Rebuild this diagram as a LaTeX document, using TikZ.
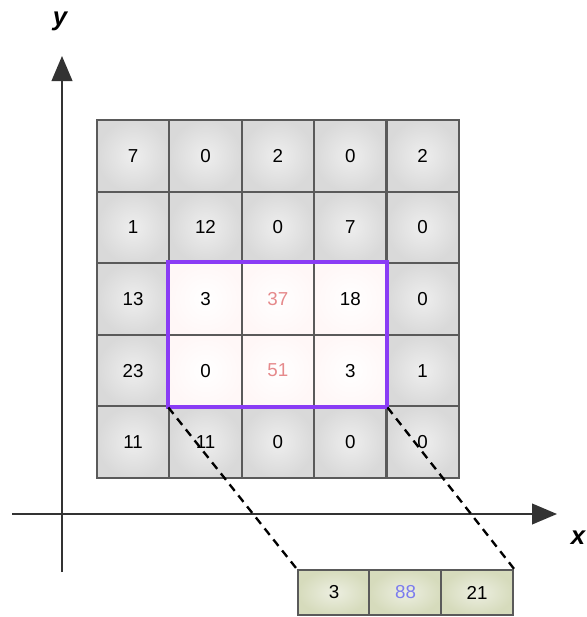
\documentclass[tikz,border=0pt]{standalone}
\usepackage{fontspec}
\setmainfont{Liberation Sans}
\usetikzlibrary{arrows.meta,positioning}
\definecolor{gridline}{HTML}{5A5A5A}
\definecolor{cellgray}{HTML}{D9D9D9}
\definecolor{cellcore}{HTML}{EEEEEE}
\definecolor{winpurple}{HTML}{8A3CF5}
\definecolor{softred}{HTML}{E68A8C}
\definecolor{softblue}{HTML}{7C7CEE}
\definecolor{outgreen}{HTML}{D6DBBC}
\definecolor{axisgray}{HTML}{333333}
\tikzset{
  cell/.style={draw=gridline,line width=1.7pt,inner color=cellcore,outer color=cellgray,
    minimum width=2.17cm,minimum height=2.15cm,font=\fontsize{16}{19}\selectfont},
  wcell/.style={cell,inner color=white,outer color=red!3},
  wredcell/.style={wcell,text=softred},
  outcell/.style={cell,inner color=outgreen!45,outer color=outgreen,minimum height=1.35cm},
  window/.style={draw=winpurple,line width=3.4pt},
  link/.style={draw=black,line width=2pt,dash pattern=on 7pt off 5pt},
  axis/.style={draw=axisgray,line width=1.7pt,-{Triangle[length=0.75cm,width=0.62cm]}},
  axlabel/.style={font=\fontsize{22}{24}\selectfont\bfseries\itshape}
}
\begin{document}
\begin{tikzpicture}[x=0.03cm,y=-0.03cm]
  \useasboundingbox (0,0) rectangle (586,617);

  % Axes
  \coordinate (yfoot) at (62,572);
  \coordinate (ytip) at (62,56);
  \coordinate (xfoot) at (12,514);
  \coordinate (xtip) at (557,514);
  \draw[axis] (yfoot) -- (ytip);
  \draw[axis] (xfoot) -- (xtip);
  \node[axlabel] (ylab) at (60,21) {y};
  \node[axlabel] (xlab) at (578,538) {x};

  % Input grid
  \foreach \vals [count=\r] in {{7,0,2,0,2},{1,12,0,7,0},{13,3,37,18,0},{23,0,51,3,1},{11,11,0,0,0}}
    \foreach \v [count=\c] in \vals {
      \def\sty{cell}
      \ifnum\r>2 \ifnum\r<5 \ifnum\c>1 \ifnum\c<5 \def\sty{wcell}\fi\fi\fi\fi
      \ifnum\r>2 \ifnum\r<5 \ifnum\c=3 \def\sty{wredcell}\fi\fi\fi
      \node[\sty] (c-\r-\c) at ({60.7+72.4*\c},{84.2+71.6*\r}) {\v};
    }

  % Window
  \draw[window] (c-3-2.north west) rectangle (c-4-4.south east);

  % Output row
  \node[outcell] (o-1) at (334,592.5) {3};
  \node[outcell,text=softblue] (o-2) at (405.5,592.5) {88};
  \node[outcell] (o-3) at (477,592.5) {21};

  % Projection lines
  \draw[link] (c-4-2.south west) -- (o-1.north west);
  \draw[link] (c-4-4.south east) -- (o-3.north east);
\end{tikzpicture}
\end{document}
